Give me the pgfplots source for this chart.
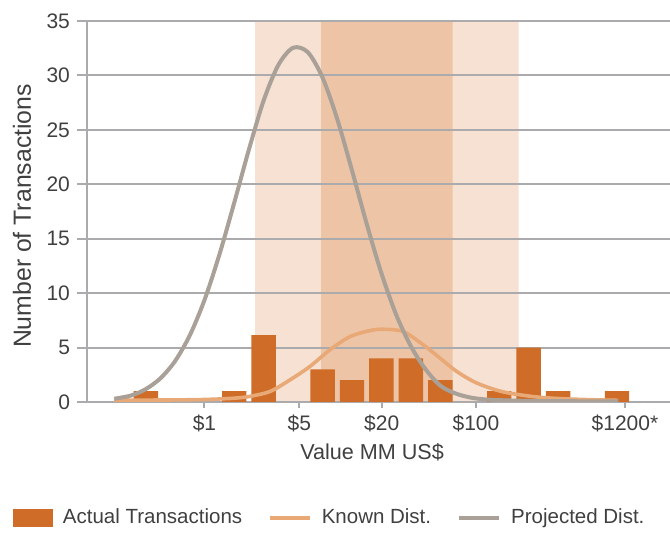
\documentclass[border=0pt]{standalone}
\usepackage{fontspec}
\setmainfont{Liberation Sans}
\usepackage{pgfplots}
\pgfplotsset{compat=1.18}

\definecolor{bars}{HTML}{CF6C28}
\definecolor{known}{HTML}{E8A977}
\definecolor{proj}{HTML}{A9A097}
\definecolor{bandlight}{HTML}{F6E1D3}
\definecolor{banddark}{HTML}{EDC5A6}
\definecolor{gridc}{HTML}{ABABAD}
\definecolor{txt}{HTML}{404040}

\begin{document}
\begin{tikzpicture}
\begin{axis}[
  set layers,
  at={(0pt,0pt)}, anchor=south west, scale only axis,
  width=291.5pt, height=190.5pt,
  xmin=0, xmax=19.8, ymin=0, ymax=35,
  axis x line*=bottom, axis y line*=left,
  xtick pos=lower, ytick pos=left,
  axis line style={gridc, line width=1pt},
  ymajorgrids, grid style={gridc, line width=1pt},
  tick style={gridc, line width=1pt},
  tick align=outside, major tick length=5pt,
  ytick={0,5,...,35},
  xtick=\empty,
  extra x ticks={3.99,7.21,10.01,13.21,18.27},
  extra x tick labels={\$1,\$5,\$20,\$100,\$1200*},
  extra x tick style={major tick length=3pt, grid=none},
  /pgf/number format/assume math mode=true,
  ticklabel style={font=\fontsize{10.5}{12}\selectfont, text=txt},
  xlabel={Value MM US\$},
  ylabel={Number of Transactions},
  xlabel style={font=\fontsize{10.8}{13}\selectfont, text=txt,
    at={(axis description cs:0.489,-0.131)}, anchor=center},
  ylabel style={font=\fontsize{12.4}{14}\selectfont, text=txt,
    at={(axis description cs:-0.1115,0.488)}, anchor=center},
  legend columns=3,
  legend style={at={(axis description cs:0.418,-0.3045)}, anchor=center,
    draw=none, fill=none, font=\fontsize{10.25}{12}\selectfont, text=txt,
    cells={anchor=west, text height=7.4pt, text depth=0pt},
    /tikz/every odd column/.append style={column sep=3pt},
    /tikz/every even column/.append style={column sep=11pt}},
  legend image code/.code={\draw[#1] (0pt,0pt) -- (20pt,0pt);},
]

% ranges
\addplot[on layer=axis background, draw=none, fill=bandlight, forget plot]
  coordinates {(5.71,0) (5.71,35) (14.66,35) (14.66,0)} \closedcycle;
\addplot[on layer=axis background, draw=none, fill=banddark, forget plot]
  coordinates {(7.95,0) (7.95,35) (12.42,35) (12.42,0)} \closedcycle;

% actual transactions
\addplot[ybar, bar width=0.83, fill=bars, draw=none,
  legend image code/.code={\fill[bars] (0pt,-4.5pt) rectangle (20pt,4.5pt);}]
  coordinates {(2,1) (5,1) (6,6.15) (8,3) (9,2) (10,4) (11,4) (12,2)
               (14,1) (15,5) (16,1) (18,1)};
\addlegendentry{Actual Transactions}

% known distribution
\addplot[known, line width=1.8pt, smooth]
  coordinates {(0.92,0.18) (2.5,0.18) (3.84,0.22) (4.6,0.29) (5.10,0.37)
    (5.54,0.52) (6.22,0.97) (6.90,2.04) (7.57,3.26) (8.25,4.79) (8.93,6.0)
    (9.61,6.56) (10.06,6.68) (10.74,6.47) (11.42,5.25) (11.99,4.03)
    (12.56,2.8) (13.24,1.74) (14.13,0.93) (15.28,0.46) (16.41,0.27)
    (18.04,0.15)};
\addlegendentry{Known Dist.}

% projected distribution
\addplot[proj, line width=2pt, smooth]
  coordinates {(0.93,0.3) (1.5,0.6) (2.0,1.19) (2.5,2.19) (3.0,3.79)
    (3.5,6.17) (4.0,9.44) (4.5,13.57) (5.0,18.3) (5.5,23.2) (6.0,27.7)
    (6.5,30.96) (7.0,32.54) (7.5,32.13) (8.0,29.8) (8.5,25.98) (9.0,21.27)
    (9.5,16.36) (10.0,11.82) (10.5,8.02) (11.0,5.12) (11.5,3.0) (12.0,1.5)
    (12.5,0.8) (13.0,0.42) (13.5,0.24) (14.0,0.17) (15.0,0.1) (16.5,0.07)
    (18.04,0.05)};
\addlegendentry{Projected Dist.}

\end{axis}
\pgfresetboundingbox
\useasboundingbox (-43.5pt,-65.5pt) rectangle (291.5pt,201pt);
\end{tikzpicture}
\end{document}
